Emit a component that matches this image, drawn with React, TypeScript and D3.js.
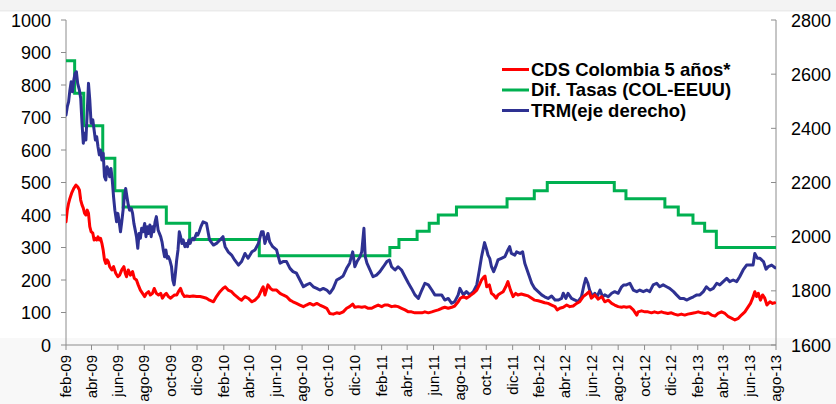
import React from "react";
import * as d3 from "d3";

// ---------- DATA ----------
const leftTicks = [0, 100, 200, 300, 400, 500, 600, 700, 800, 900, 1000];
const rightTicks = [1600, 1800, 2000, 2200, 2400, 2600, 2800];

const xTickDates = [
  "2009-02-01", "2009-04-01", "2009-06-01", "2009-08-01", "2009-10-01", "2009-12-01",
  "2010-02-01", "2010-04-01", "2010-06-01", "2010-08-01", "2010-10-01", "2010-12-01",
  "2011-02-01", "2011-04-01", "2011-06-01", "2011-08-01", "2011-10-01", "2011-12-01",
  "2012-02-01", "2012-04-01", "2012-06-01", "2012-08-01", "2012-10-01", "2012-12-01",
  "2013-02-01", "2013-04-01", "2013-06-01", "2013-08-01",
];
const xTickLabels = [
  "feb-09", "abr-09", "jun-09", "ago-09", "oct-09", "dic-09",
  "feb-10", "abr-10", "jun-10", "ago-10", "oct-10", "dic-10",
  "feb-11", "abr-11", "jun-11", "ago-11", "oct-11", "dic-11",
  "feb-12", "abr-12", "jun-12", "ago-12", "oct-12", "dic-12",
  "feb-13", "abr-13", "jun-13", "ago-13",
];

const seriesNames = ["CDS Colombia 5 años*", "Dif. Tasas (COL-EEUU)", "TRM(eje derecho)"];

// Dif. Tasas (step changes): date of change, new value (left axis)
const difTasas: [string, number][] = [
  ["2009-02-01", 875], ["2009-02-21", 775], ["2009-03-14", 675], ["2009-04-27", 575],
  ["2009-05-25", 475], ["2009-06-13", 425], ["2009-09-21", 375], ["2009-11-14", 325],
  ["2010-04-24", 275], ["2011-02-20", 300], ["2011-03-13", 325], ["2011-04-24", 350],
  ["2011-05-22", 375], ["2011-06-12", 400], ["2011-07-24", 425], ["2011-11-18", 450],
  ["2012-01-20", 475], ["2012-02-19", 500], ["2012-07-23", 475], ["2012-08-19", 450],
  ["2012-11-17", 425], ["2012-12-18", 400], ["2013-01-21", 375], ["2013-02-17", 350],
  ["2013-03-16", 300], ["2013-08-01", 300],
];

// CDS Colombia 5 años (left axis)
const cds: [string, number][] = [
  ["2009-02-01", 379], ["2009-02-04", 415], ["2009-02-07", 436], ["2009-02-10", 451],
  ["2009-02-14", 467], ["2009-02-19", 482], ["2009-02-24", 492], ["2009-02-28", 487],
  ["2009-03-04", 477], ["2009-03-07", 446], ["2009-03-10", 431], ["2009-03-13", 421],
  ["2009-03-16", 405], ["2009-03-19", 400], ["2009-03-22", 415], ["2009-03-25", 405],
  ["2009-03-28", 364], ["2009-03-31", 349], ["2009-04-04", 344], ["2009-04-07", 323],
  ["2009-04-10", 328], ["2009-04-13", 323], ["2009-04-16", 333], ["2009-04-19", 323],
  ["2009-04-22", 328], ["2009-04-25", 313], ["2009-04-28", 292], ["2009-05-01", 262],
  ["2009-05-04", 251], ["2009-05-07", 262], ["2009-05-10", 256], ["2009-05-13", 241],
  ["2009-05-18", 231], ["2009-05-22", 241], ["2009-05-27", 221], ["2009-06-01", 210],
  ["2009-06-05", 215], ["2009-06-10", 231], ["2009-06-15", 241], ["2009-06-18", 221],
  ["2009-06-21", 210], ["2009-06-25", 231], ["2009-06-30", 215], ["2009-07-05", 226],
  ["2009-07-09", 205], ["2009-07-14", 200], ["2009-07-18", 185], ["2009-07-23", 169],
  ["2009-07-28", 159], ["2009-08-02", 149], ["2009-08-06", 159], ["2009-08-11", 164],
  ["2009-08-15", 154], ["2009-08-20", 159], ["2009-08-24", 174], ["2009-08-29", 159],
  ["2009-09-03", 154], ["2009-09-08", 159], ["2009-09-12", 144], ["2009-09-17", 154],
  ["2009-09-21", 159], ["2009-09-26", 149], ["2009-10-01", 144], ["2009-10-05", 149],
  ["2009-10-10", 154], ["2009-10-15", 154], ["2009-10-19", 164], ["2009-10-24", 174],
  ["2009-10-28", 159], ["2009-11-02", 149], ["2009-11-07", 151], ["2009-11-14", 149],
  ["2009-11-22", 151], ["2009-11-30", 149], ["2009-12-08", 149], ["2009-12-15", 147],
  ["2009-12-23", 144], ["2009-12-30", 138], ["2010-01-08", 133], ["2010-01-15", 149],
  ["2010-01-23", 164], ["2010-01-30", 174], ["2010-02-04", 179], ["2010-02-11", 169],
  ["2010-02-19", 164], ["2010-02-26", 154], ["2010-03-07", 144], ["2010-03-14", 138],
  ["2010-03-22", 149], ["2010-03-29", 144], ["2010-04-07", 133], ["2010-04-14", 138],
  ["2010-04-22", 149], ["2010-04-29", 169], ["2010-05-03", 179], ["2010-05-07", 154],
  ["2010-05-14", 185], ["2010-05-20", 174], ["2010-05-25", 169], ["2010-06-03", 169],
  ["2010-06-11", 159], ["2010-06-18", 154], ["2010-06-26", 149], ["2010-07-04", 138],
  ["2010-07-11", 133], ["2010-07-19", 128], ["2010-07-27", 123], ["2010-08-04", 118],
  ["2010-08-11", 123], ["2010-08-19", 128], ["2010-08-27", 123], ["2010-09-04", 128],
  ["2010-09-11", 123], ["2010-09-19", 118], ["2010-09-27", 113], ["2010-10-04", 97],
  ["2010-10-12", 95], ["2010-10-20", 99], ["2010-10-27", 97], ["2010-11-04", 102],
  ["2010-11-12", 113], ["2010-11-19", 118], ["2010-11-26", 126], ["2010-12-01", 116],
  ["2010-12-09", 118], ["2010-12-17", 116], ["2010-12-24", 118], ["2011-01-01", 113],
  ["2011-01-09", 113], ["2011-01-16", 118], ["2011-01-24", 123], ["2011-02-01", 118],
  ["2011-02-08", 123], ["2011-02-16", 123], ["2011-02-24", 118], ["2011-03-04", 120],
  ["2011-03-11", 118], ["2011-03-19", 113], ["2011-03-27", 108], ["2011-04-04", 102],
  ["2011-04-11", 102], ["2011-04-19", 99], ["2011-04-27", 99], ["2011-05-05", 99],
  ["2011-05-12", 102], ["2011-05-20", 99], ["2011-05-28", 102], ["2011-06-04", 105],
  ["2011-06-12", 108], ["2011-06-20", 113], ["2011-06-27", 116], ["2011-07-05", 113],
  ["2011-07-13", 116], ["2011-07-20", 120], ["2011-07-28", 133], ["2011-08-02", 144],
  ["2011-08-09", 149], ["2011-08-16", 144], ["2011-08-24", 151], ["2011-09-01", 159],
  ["2011-09-09", 169], ["2011-09-15", 185], ["2011-09-20", 200], ["2011-09-26", 210],
  ["2011-09-28", 212], ["2011-10-02", 179], ["2011-10-08", 185], ["2011-10-13", 159],
  ["2011-10-18", 154], ["2011-10-24", 144], ["2011-10-28", 154], ["2011-11-03", 159],
  ["2011-11-09", 164], ["2011-11-15", 179], ["2011-11-20", 195], ["2011-11-26", 169],
  ["2011-12-02", 149], ["2011-12-08", 159], ["2011-12-13", 154], ["2011-12-21", 157],
  ["2011-12-29", 154], ["2012-01-06", 151], ["2012-01-14", 144], ["2012-01-21", 138],
  ["2012-01-29", 136], ["2012-02-06", 133], ["2012-02-13", 130], ["2012-02-21", 128],
  ["2012-02-29", 123], ["2012-03-08", 118], ["2012-03-13", 108], ["2012-03-19", 113],
  ["2012-03-27", 116], ["2012-04-04", 123], ["2012-04-11", 118], ["2012-04-19", 120],
  ["2012-04-27", 128], ["2012-05-04", 133], ["2012-05-12", 149], ["2012-05-20", 157],
  ["2012-05-26", 164], ["2012-05-31", 144], ["2012-06-08", 154], ["2012-06-16", 141],
  ["2012-06-24", 149], ["2012-07-01", 133], ["2012-07-09", 138], ["2012-07-17", 128],
  ["2012-07-24", 123], ["2012-08-01", 118], ["2012-08-09", 116], ["2012-08-14", 118],
  ["2012-08-20", 116], ["2012-08-28", 118], ["2012-09-05", 108], ["2012-09-13", 92],
  ["2012-09-16", 102], ["2012-09-24", 105], ["2012-10-02", 102], ["2012-10-09", 102],
  ["2012-10-17", 99], ["2012-10-24", 102], ["2012-11-01", 99], ["2012-11-09", 102],
  ["2012-11-16", 99], ["2012-11-24", 97], ["2012-12-02", 99], ["2012-12-09", 95],
  ["2012-12-17", 92], ["2012-12-25", 95], ["2013-01-02", 92], ["2013-01-09", 95],
  ["2013-01-17", 97], ["2013-01-25", 99], ["2013-02-02", 102], ["2013-02-10", 99],
  ["2013-02-17", 97], ["2013-02-25", 99], ["2013-03-05", 92], ["2013-03-13", 89],
  ["2013-03-20", 97], ["2013-03-28", 102], ["2013-04-05", 97], ["2013-04-13", 87],
  ["2013-04-21", 82], ["2013-04-28", 77], ["2013-05-06", 82], ["2013-05-13", 92],
  ["2013-05-21", 102], ["2013-05-29", 118], ["2013-06-03", 128], ["2013-06-08", 144],
  ["2013-06-13", 164], ["2013-06-17", 149], ["2013-06-21", 159], ["2013-06-26", 138],
  ["2013-07-01", 154], ["2013-07-06", 144], ["2013-07-11", 123], ["2013-07-18", 133],
  ["2013-07-24", 128], ["2013-07-29", 130],
];

// TRM (right axis)
const trm: [string, number][] = [
  ["2009-02-01", 2449], ["2009-02-04", 2480], ["2009-02-07", 2498], ["2009-02-10", 2541],
  ["2009-02-13", 2572], ["2009-02-16", 2535], ["2009-02-19", 2578], ["2009-02-22", 2603],
  ["2009-02-25", 2609], ["2009-02-28", 2566], ["2009-03-04", 2541], ["2009-03-07", 2511],
  ["2009-03-10", 2419], ["2009-03-13", 2345], ["2009-03-16", 2382], ["2009-03-19", 2357],
  ["2009-03-22", 2455], ["2009-03-25", 2566], ["2009-03-28", 2505], ["2009-03-31", 2419],
  ["2009-04-04", 2431], ["2009-04-07", 2394], ["2009-04-10", 2357], ["2009-04-13", 2369],
  ["2009-04-16", 2332], ["2009-04-19", 2302], ["2009-04-22", 2320], ["2009-04-25", 2283],
  ["2009-04-28", 2308], ["2009-05-01", 2221], ["2009-05-04", 2209], ["2009-05-07", 2258],
  ["2009-05-10", 2246], ["2009-05-13", 2221], ["2009-05-16", 2252], ["2009-05-19", 2209],
  ["2009-05-22", 2147], ["2009-05-25", 2098], ["2009-05-29", 2055], ["2009-06-01", 2086],
  ["2009-06-04", 2055], ["2009-06-07", 2018], ["2009-06-10", 2055], ["2009-06-13", 2098],
  ["2009-06-16", 2147], ["2009-06-19", 2178], ["2009-06-22", 2147], ["2009-06-25", 2117],
  ["2009-06-28", 2098], ["2009-07-02", 2104], ["2009-07-05", 2086], ["2009-07-08", 2049],
  ["2009-07-11", 2025], ["2009-07-14", 2000], ["2009-07-17", 1957], ["2009-07-20", 2012],
  ["2009-07-23", 1994], ["2009-07-26", 2031], ["2009-07-29", 2018], ["2009-08-02", 2049],
  ["2009-08-05", 2000], ["2009-08-08", 2037], ["2009-08-11", 2012], ["2009-08-14", 2043],
  ["2009-08-17", 2000], ["2009-08-20", 2037], ["2009-08-23", 2018], ["2009-08-26", 2055],
  ["2009-08-29", 2074], ["2009-09-02", 2025], ["2009-09-05", 2012], ["2009-09-08", 2000],
  ["2009-09-11", 1981], ["2009-09-14", 1951], ["2009-09-17", 1926], ["2009-09-20", 1951],
  ["2009-09-23", 1920], ["2009-09-26", 1926], ["2009-09-29", 1914], ["2009-10-03", 1889],
  ["2009-10-06", 1840], ["2009-10-09", 1822], ["2009-10-12", 1865], ["2009-10-15", 1914],
  ["2009-10-18", 1951], ["2009-10-21", 2018], ["2009-10-24", 2000], ["2009-10-27", 1975],
  ["2009-10-30", 1988], ["2009-11-03", 1963], ["2009-11-06", 1975], ["2009-11-09", 1963],
  ["2009-11-12", 1988], ["2009-11-15", 1975], ["2009-11-18", 1988], ["2009-11-21", 1994],
  ["2009-11-24", 1988], ["2009-11-27", 2000], ["2009-11-30", 2012], ["2009-12-03", 2006],
  ["2009-12-06", 2018], ["2009-12-10", 2037], ["2009-12-15", 2055], ["2009-12-23", 2049],
  ["2009-12-30", 1988], ["2010-01-08", 1969], ["2010-01-15", 1975], ["2010-01-23", 1988],
  ["2010-01-30", 2000], ["2010-02-04", 1963], ["2010-02-11", 1944], ["2010-02-19", 1932],
  ["2010-02-26", 1914], ["2010-03-07", 1895], ["2010-03-14", 1908], ["2010-03-22", 1938],
  ["2010-03-29", 1920], ["2010-04-07", 1944], ["2010-04-14", 1951], ["2010-04-22", 1975],
  ["2010-04-29", 2018], ["2010-05-03", 2018], ["2010-05-07", 1975], ["2010-05-14", 2012],
  ["2010-05-18", 1981], ["2010-05-25", 1963], ["2010-06-03", 1951], ["2010-06-11", 1902],
  ["2010-06-18", 1908], ["2010-06-26", 1908], ["2010-07-04", 1883], ["2010-07-11", 1871],
  ["2010-07-19", 1865], ["2010-07-27", 1840], ["2010-08-04", 1815], ["2010-08-11", 1822],
  ["2010-08-19", 1828], ["2010-08-27", 1815], ["2010-09-04", 1809], ["2010-09-11", 1803],
  ["2010-09-19", 1809], ["2010-09-27", 1803], ["2010-10-04", 1791], ["2010-10-12", 1809],
  ["2010-10-20", 1840], ["2010-10-27", 1846], ["2010-11-04", 1855], ["2010-11-12", 1883],
  ["2010-11-19", 1902], ["2010-11-26", 1944], ["2010-12-01", 1889], ["2010-12-06", 1908],
  ["2010-12-13", 1926], ["2010-12-17", 1944], ["2010-12-22", 2031], ["2010-12-25", 1926],
  ["2010-12-29", 1902], ["2011-01-05", 1877], ["2011-01-12", 1852], ["2011-01-20", 1858],
  ["2011-01-28", 1871], ["2011-02-05", 1889], ["2011-02-13", 1908], ["2011-02-19", 1914],
  ["2011-02-24", 1889], ["2011-03-04", 1877], ["2011-03-11", 1889], ["2011-03-19", 1877],
  ["2011-03-27", 1852], ["2011-04-04", 1828], ["2011-04-11", 1809], ["2011-04-19", 1785],
  ["2011-04-27", 1772], ["2011-05-05", 1803], ["2011-05-12", 1828], ["2011-05-20", 1822],
  ["2011-05-28", 1803], ["2011-06-04", 1785], ["2011-06-12", 1785], ["2011-06-20", 1785],
  ["2011-06-27", 1766], ["2011-07-05", 1772], ["2011-07-13", 1754], ["2011-07-20", 1760],
  ["2011-07-28", 1785], ["2011-08-01", 1809], ["2011-08-09", 1785], ["2011-08-16", 1797],
  ["2011-08-24", 1785], ["2011-09-01", 1797], ["2011-09-09", 1822], ["2011-09-15", 1877],
  ["2011-09-20", 1926], ["2011-09-27", 1978], ["2011-10-02", 1951], ["2011-10-05", 1932],
  ["2011-10-09", 1920], ["2011-10-13", 1889], ["2011-10-18", 1871], ["2011-10-24", 1895],
  ["2011-10-28", 1914], ["2011-11-05", 1920], ["2011-11-13", 1926], ["2011-11-20", 1951],
  ["2011-11-24", 1963], ["2011-11-28", 1938], ["2011-12-06", 1932], ["2011-12-10", 1944],
  ["2011-12-18", 1938], ["2011-12-24", 1944], ["2011-12-29", 1902], ["2012-01-06", 1865],
  ["2012-01-14", 1828], ["2012-01-21", 1809], ["2012-01-29", 1797], ["2012-02-06", 1785],
  ["2012-02-13", 1778], ["2012-02-21", 1772], ["2012-02-29", 1781], ["2012-03-08", 1766],
  ["2012-03-16", 1766], ["2012-03-23", 1772], ["2012-03-27", 1791], ["2012-04-02", 1772],
  ["2012-04-07", 1791], ["2012-04-15", 1772], ["2012-04-23", 1766], ["2012-04-30", 1760],
  ["2012-05-08", 1778], ["2012-05-14", 1822], ["2012-05-18", 1846], ["2012-05-23", 1828],
  ["2012-05-27", 1803], ["2012-06-03", 1778], ["2012-06-08", 1791], ["2012-06-13", 1778],
  ["2012-06-20", 1803], ["2012-06-26", 1778], ["2012-07-01", 1785], ["2012-07-09", 1778],
  ["2012-07-17", 1791], ["2012-07-24", 1797], ["2012-08-01", 1791], ["2012-08-09", 1815],
  ["2012-08-14", 1822], ["2012-08-20", 1822], ["2012-08-28", 1828], ["2012-09-05", 1803],
  ["2012-09-13", 1797], ["2012-09-20", 1803], ["2012-09-28", 1797], ["2012-10-06", 1803],
  ["2012-10-13", 1797], ["2012-10-21", 1822], ["2012-10-29", 1828], ["2012-11-05", 1815],
  ["2012-11-13", 1822], ["2012-11-21", 1815], ["2012-11-28", 1809], ["2012-12-07", 1797],
  ["2012-12-14", 1785], ["2012-12-22", 1772], ["2012-12-30", 1772], ["2013-01-07", 1766],
  ["2013-01-14", 1772], ["2013-01-22", 1778], ["2013-01-30", 1785], ["2013-02-06", 1785],
  ["2013-02-14", 1797], ["2013-02-21", 1815], ["2013-03-01", 1803], ["2013-03-09", 1809],
  ["2013-03-17", 1828], ["2013-03-24", 1822], ["2013-04-01", 1834], ["2013-04-09", 1846],
  ["2013-04-16", 1834], ["2013-04-24", 1840], ["2013-05-02", 1834], ["2013-05-09", 1852],
  ["2013-05-17", 1877], ["2013-05-25", 1895], ["2013-06-02", 1895], ["2013-06-09", 1895],
  ["2013-06-13", 1938], ["2013-06-19", 1920], ["2013-06-25", 1920], ["2013-07-03", 1908],
  ["2013-07-09", 1880], ["2013-07-14", 1889], ["2013-07-22", 1895], ["2013-07-30", 1885],
];

// ---------- CHART ----------
const W = 836;
const H = 404;
const PLOT = { left: 66, right: 776, top: 20, bottom: 345 };
const COLORS = { cds: "#ff0000", dif: "#00b050", trm: "#2e3192" };
const FONT = "'Liberation Sans', Arial, Helvetica, sans-serif";

const parse = d3.timeParse("%Y-%m-%d");

export default function App() {
  const x = d3
    .scaleTime()
    .domain([parse("2009-02-01")!, parse("2013-08-01")!])
    .range([PLOT.left, PLOT.right]);
  const yL = d3.scaleLinear().domain([0, 1000]).range([PLOT.bottom, PLOT.top]);
  const yR = d3.scaleLinear().domain([1600, 2800]).range([PLOT.bottom, PLOT.top]);

  const lineL = d3
    .line<[string, number]>()
    .x((d) => x(parse(d[0])!))
    .y((d) => yL(d[1]));
  const lineR = d3
    .line<[string, number]>()
    .x((d) => x(parse(d[0])!))
    .y((d) => yR(d[1]));
  const stepL = d3
    .line<[string, number]>()
    .x((d) => x(parse(d[0])!))
    .y((d) => yL(d[1]))
    .curve(d3.curveStepAfter);

  const axisColor = "#8c8c8c";
  const legendX = 502;
  const legendY = [69.5, 90, 110.5];
  const legendColors = [COLORS.cds, COLORS.dif, COLORS.trm];

  return (
    <svg
      width={W}
      height={H}
      viewBox={`0 0 ${W} ${H}`}
      style={{ position: "absolute", left: 0, top: 0, background: "#ffffff" }}
      fontFamily={FONT}
    >
      {/* faint background patches */}
      <rect x={0} y={0} width={W} height={10} fill="#f3f3f3" />
      <rect x={0} y={10} width={W} height={1.5} fill="#ebebeb" />
      <rect x={0} y={338} width={W} height={H - 338} fill="#f8f8f8" />

      <defs>
        <clipPath id="plotclip">
          <rect x={PLOT.left} y={PLOT.top - 5} width={PLOT.right - PLOT.left} height={PLOT.bottom - PLOT.top + 5} />
        </clipPath>
      </defs>

      {/* axes */}
      <line x1={PLOT.left} x2={PLOT.left} y1={PLOT.top} y2={PLOT.bottom} stroke={axisColor} strokeWidth={1} />
      <line x1={PLOT.right} x2={PLOT.right} y1={PLOT.top} y2={PLOT.bottom} stroke={axisColor} strokeWidth={1} />
      <line x1={PLOT.left} x2={PLOT.right} y1={PLOT.bottom} y2={PLOT.bottom} stroke={axisColor} strokeWidth={1} />

      {leftTicks.map((t) => (
        <g key={"l" + t}>
          <line x1={PLOT.left - 5} x2={PLOT.left} y1={yL(t)} y2={yL(t)} stroke={axisColor} />
          <text x={51} y={yL(t) + 6.5} textAnchor="end" fontSize={18} fill="#000">
            {t}
          </text>
        </g>
      ))}
      {rightTicks.map((t) => (
        <g key={"r" + t}>
          <line x1={PLOT.right - 5} x2={PLOT.right} y1={yR(t)} y2={yR(t)} stroke={axisColor} />
          <text x={791} y={yR(t) + 6.5} textAnchor="start" fontSize={18} fill="#000">
            {t}
          </text>
        </g>
      ))}
      {xTickDates.map((d, i) => {
        const xx = x(parse(d)!);
        return (
          <g key={"x" + d}>
            <line x1={xx} x2={xx} y1={PLOT.bottom} y2={PLOT.bottom + 5} stroke={axisColor} />
            <text
              transform={`translate(${xx + 5},${355}) rotate(-90)`}
              textAnchor="end"
              fontSize={15}
              fill="#000"
            >
              {xTickLabels[i]}
            </text>
          </g>
        );
      })}

      {/* series */}
      <g clipPath="url(#plotclip)" fill="none" strokeLinejoin="round" strokeLinecap="round">
        <path d={stepL(difTasas) || ""} stroke={COLORS.dif} strokeWidth={3} strokeLinecap="butt" strokeLinejoin="miter" />
        <path d={lineR(trm) || ""} stroke={COLORS.trm} strokeWidth={3} />
        <path d={lineL(cds) || ""} stroke={COLORS.cds} strokeWidth={3} />
      </g>

      {/* legend */}
      {seriesNames.map((name, i) => (
        <g key={name}>
          <line x1={legendX} x2={legendX + 27} y1={legendY[i]} y2={legendY[i]} stroke={legendColors[i]} strokeWidth={3} />
          <text x={legendX + 29} y={legendY[i] + 6.3} fontSize={18.5} fontWeight="bold" fill="#000">
            {name}
          </text>
        </g>
      ))}
    </svg>
  );
}
